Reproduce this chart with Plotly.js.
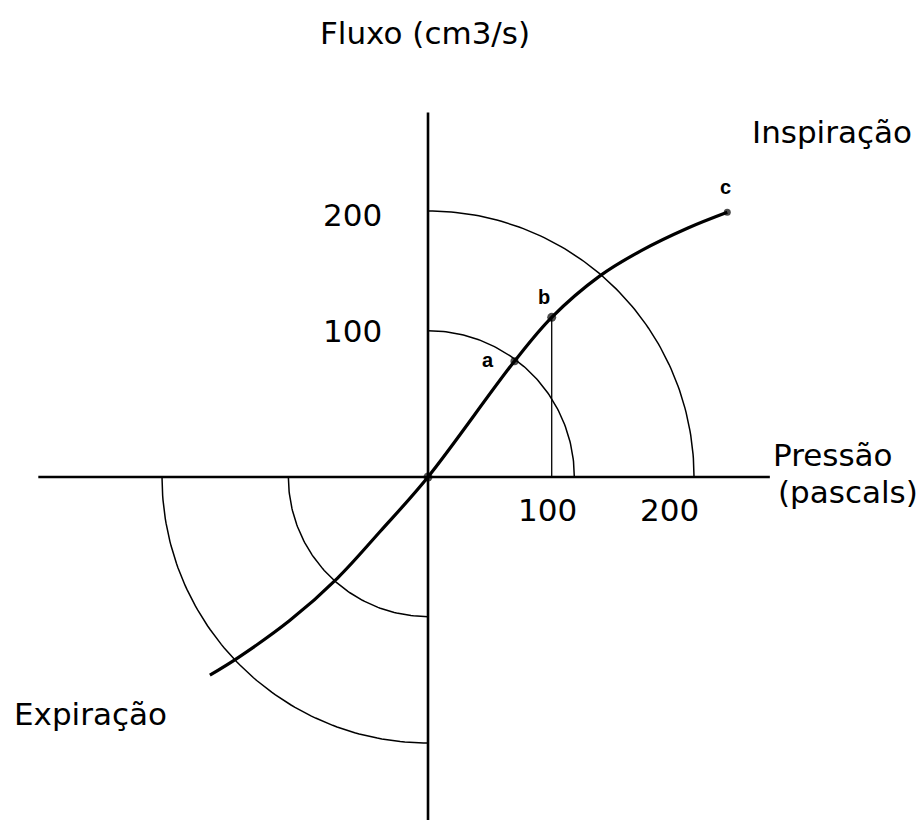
<!DOCTYPE html>
<html>
<head>
<meta charset="utf-8">
<script src="https://cdn.plot.ly/plotly-3.0.1.min.js"></script>
<style>html,body{margin:0;padding:0;background:#fff}#chart{width:922px;height:820px}</style>
</head>
<body>
<div id="chart"></div>
<script>
// ---- data (pressure in Pa-like units, flow in cm3/s-like units) ----
const curvePressure = [-164, -143, -104, -68, -36, 0, 65, 93, 129, 160, 195, 225];
const curveFlow     = [-149, -136, -108, -76, -41, 0, 87, 120, 151, 170, 187, 199];
const pointNames    = ['a', 'b', 'c'];
const pointPressure = [65, 93, 225];
const pointFlow     = [87, 120, 199];
const inspRadii     = [110, 200];   // quarter circles, inspiration quadrant
const expRadii      = [105, 200];   // quarter circles, expiration quadrant
const xTickText     = ['100', '200'];
const yTickText     = ['200', '100'];
const axisXExtent   = [-293, 257];
const axisYExtent   = [274, -260];

// ---- layout helpers (positions only) ----
const W = 922, H = 820;
const xRange = [-321.8, 371.4];
const yRange = [-257.9, 358.6];
const FONT = 'DejaVu Sans, Verdana, sans-serif';
const px = v => v / W, py = v => 1 - v / H;

function arc(r, a0, a1) {
  const xs = [], ys = [];
  for (let i = 0; i <= 90; i++) {
    const t = (a0 + (a1 - a0) * i / 90) * Math.PI / 180;
    xs.push(r * Math.cos(t)); ys.push(r * Math.sin(t));
  }
  return {x: xs, y: ys};
}

const traces = [];
// axes
traces.push({x: axisXExtent, y: [0, 0], mode: 'lines', line: {color: '#000', width: 2.6}, hoverinfo: 'skip'});
traces.push({x: [0, 0], y: axisYExtent, mode: 'lines', line: {color: '#000', width: 2.6}, hoverinfo: 'skip'});
// arcs
inspRadii.forEach(r => { const a = arc(r, 0, 90); traces.push({x: a.x, y: a.y, mode: 'lines', line: {color: '#000', width: 1.5}, hoverinfo: 'skip'}); });
expRadii.forEach(r => { const a = arc(r, 180, 270); traces.push({x: a.x, y: a.y, mode: 'lines', line: {color: '#000', width: 1.5}, hoverinfo: 'skip'}); });
// vertical drop line from b
traces.push({x: [pointPressure[1], pointPressure[1]], y: [pointFlow[1], 0], mode: 'lines', line: {color: '#000', width: 1.3}, hoverinfo: 'skip'});
// curve
traces.push({x: curvePressure, y: curveFlow, mode: 'lines', line: {color: '#000', width: 3.2, shape: 'spline', smoothing: 1}, hoverinfo: 'skip'});
// points
traces.push({x: [0].concat(pointPressure), y: [0].concat(pointFlow), mode: 'markers', marker: {color: '#000', size: [9, 8, 9, 7], line: {width: 0}}, hoverinfo: 'skip'});

const ann = [];
function txt(text, x, y, size, opts) {
  ann.push(Object.assign({text: text, xref: 'paper', yref: 'paper', x: px(x), y: py(y), xanchor: 'center', yanchor: 'middle',
    showarrow: false, font: {family: FONT, size: size, color: '#000'}}, opts || {}));
}
txt('Fluxo (cm3/s)', 425, 33, 31);
txt('Inspiração', 832, 132, 31);
txt('Pressão', 833, 455, 31);
txt('(pascals)', 848, 492, 31);
txt('Expiração', 90, 714, 31);
const xTickPx = [547, 669], yTickPy = [215, 331];
xTickText.forEach((t, i) => txt(t, xTickPx[i], 510, 31));
yTickText.forEach((t, i) => txt(t, 352, yTickPy[i], 31));
const letterPx = [[488, 360], [544, 297], [725, 187]];
pointNames.forEach((n, i) => txt('<b>' + n + '</b>', letterPx[i][0], letterPx[i][1], 20, {font: {family: 'Liberation Sans, Arial, sans-serif', size: 20, color: '#000'}}));

const layout = {
  width: W, height: H,
  margin: {l: 0, r: 0, t: 0, b: 0},
  paper_bgcolor: '#fff', plot_bgcolor: '#fff',
  showlegend: false,
  xaxis: {range: xRange, visible: false, fixedrange: true},
  yaxis: {range: yRange, visible: false, fixedrange: true},
  annotations: ann
};
Plotly.newPlot('chart', traces, layout, {displayModeBar: false, staticPlot: true});
</script>
</body>
</html>
